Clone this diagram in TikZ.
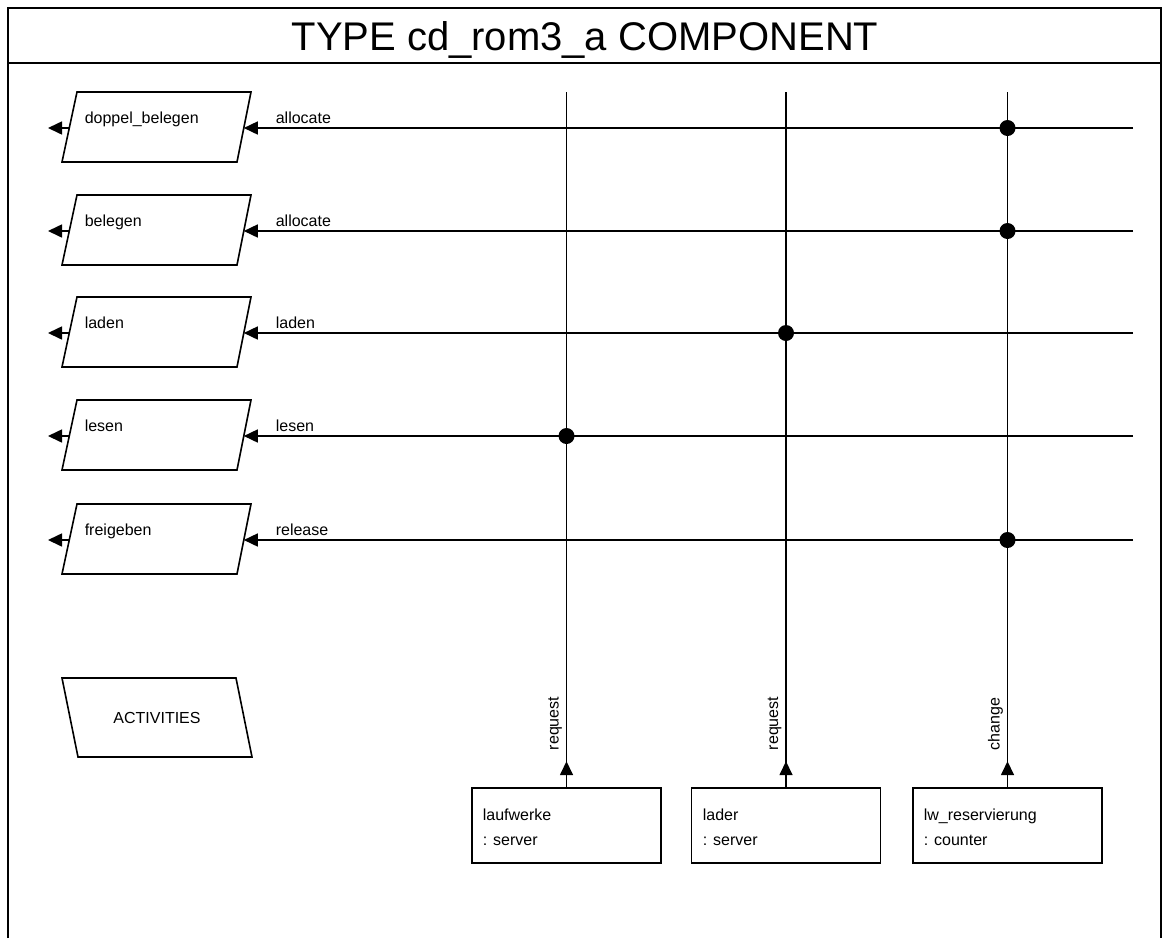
\documentclass[tikz,border=0pt]{standalone}
\usepackage{fontspec}
\setmainfont{Liberation Sans}
\usetikzlibrary{arrows.meta}
\begin{document}
\begin{tikzpicture}[x=1pt,y=-1pt,line width=1.6pt,
  txt/.style={font=\fontsize{16}{19}\selectfont,inner sep=0pt},
  arr/.style={-{Triangle[length=14pt,width=13pt]}},
  dot/.style={circle,fill=black,inner sep=0pt,minimum size=16pt},
  compbox/.style={draw,minimum width=189pt,minimum height=75pt,inner sep=0pt}]
\useasboundingbox (0,0) rectangle (1162,938);

% frame and title bar
\draw (8,938) -- (8,8) -- (1161,8) -- (1161,938);
\draw (8,63) -- (1161,63);
\node[font=\fontsize{40}{48}\selectfont,inner sep=0pt,anchor=base] (title) at (585,50) {TYPE cd\_rom3\_a COMPONENT};

% component instances
\node[compbox] (b1) at (566.5,825.5) {};
\node[compbox] (b2) at (786,825.5) {};
\node[compbox] (b3) at (1007.5,825.5) {};
\node[txt,anchor=base west] (b1a) at (482,820) {laufwerke};
\node[txt,anchor=base west] (b1b) at (482,845) {: server};
\node[txt,anchor=base west] (b2a) at (702,820) {lader};
\node[txt,anchor=base west] (b2b) at (702,845) {: server};
\node[txt,anchor=base west] (b3a) at (923,820) {lw\_reservierung};
\node[txt,anchor=base west] (b3b) at (923,845) {: counter};

% vertical provided interfaces
\coordinate (t1) at (566.5,92);
\coordinate (t2) at (786,92);
\coordinate (t3) at (1007.5,92);
\foreach \k in {1,2,3} {
  \draw (b\k.north) -- (t\k);
  \draw[arr] (b\k.north) -- ++(0,-26);
}
\node[txt,rotate=90,anchor=base west] (r1) at (558.5,751) {request};
\node[txt,rotate=90,anchor=base west] (r2) at (778,751) {request};
\node[txt,rotate=90,anchor=base west] (r3) at (999.5,751) {change};

% activities with their required interfaces
\foreach \i/\nm/\lab/\y in {1/doppel\_belegen/allocate/128,
                            2/belegen/allocate/231,
                            3/laden/laden/333,
                            4/lesen/lesen/436,
                            5/freigeben/release/540} {
  \draw (62,\y+34) -- (77,\y-36) -- (251,\y-36) -- (237,\y+34) -- cycle;
  \coordinate (pl\i) at (69.3,\y);
  \coordinate (pr\i) at (243.8,\y);
  \coordinate (out\i) at (48,\y);
  \coordinate (in\i) at (1133,\y);
  \node[txt,anchor=base west] (n\i) at (84,\y-5) {\nm};
  \node[txt,anchor=base west] (l\i) at (275,\y-5) {\lab};
  \draw[arr] (pl\i) -- (out\i);
  \draw[arr] (in\i) -- (pr\i);
}

% junctions
\node[dot] (j1) at (1007.5,128) {};
\node[dot] (j2) at (1007.5,231) {};
\node[dot] (j3) at (786,333) {};
\node[dot] (j4) at (566.5,436) {};
\node[dot] (j5) at (1007.5,540) {};

% activities block
\draw (62,678) -- (236,678) -- (252,757) -- (78,757) -- cycle;
\node[txt] (act) at (157,718) {ACTIVITIES};
\end{tikzpicture}
\end{document}
